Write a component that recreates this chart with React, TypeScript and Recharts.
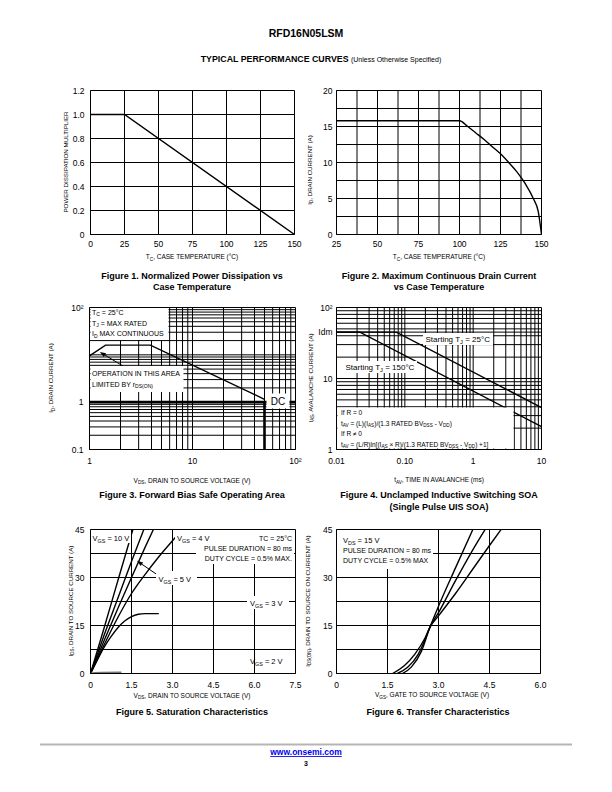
import React from "react"
import { LineChart, Line, XAxis, YAxis, CartesianGrid, ReferenceLine } from "recharts"

const FONT = "'Liberation Sans', Arial, Helvetica, sans-serif"

// Figure 1: normalized power dissipation vs case temperature
const fig1Temp = [0, 25, 150]
const fig1Mult = [1.0, 1.0, 0]
const fig1XTicks = [0, 25, 50, 75, 100, 125, 150]
const fig1YTicks = [0, 0.2, 0.4, 0.6, 0.8, 1.0, 1.2]

// Figure 2: max continuous drain current vs case temperature
const fig2Temp = [25, 100, 105, 110, 115, 120, 125, 130, 135, 140, 145, 148, 150]
const fig2Id = [15.8, 15.8, 15.0, 14.1, 13.2, 12.2, 11.2, 10.0, 8.7, 7.1, 5.0, 3.2, 0]
const fig2XTicks = [25, 37.5, 50, 62.5, 75, 87.5, 100, 112.5, 125, 137.5, 150]
const fig2XLabels = [25, 50, 75, 100, 125, 150]
const fig2YTicks = [0, 2.5, 5, 7.5, 10, 12.5, 15, 17.5, 20]
const fig2YLabels = [0, 5, 10, 15, 20]

// Figure 3: forward bias SOA (log-log)
const fig3SoaVds = [1, 1.43, 3.9, 50]
const fig3SoaId = [9.5, 16, 16, 1.15]
const fig3DcVds = [1, 100]
const fig3DcId = [1, 1]
const fig3BvVds = [50, 50]
const fig3BvId = [0.1, 1]
const fig3XTicks = [1, 2, 3, 4, 5, 6, 7, 8, 9, 10, 20, 30, 40, 50, 60, 70, 80, 90, 100]
const fig3YTicks = [0.1, 0.2, 0.3, 0.4, 0.5, 0.6, 0.7, 0.8, 0.9, 1, 2, 3, 4, 5, 6, 7, 8, 9, 10, 20, 30, 40, 50, 60, 70, 80, 90, 100]

// Figure 4: unclamped inductive switching SOA
const fig4T25Time = [0.01, 0.075, 10]
const fig4T25Ias = [45, 45, 3.9]
const fig4T150Time = [0.01, 0.022, 10]
const fig4T150Ias = [45, 45, 2.1]
const fig4XTicks = [0.01, 0.02, 0.03, 0.04, 0.05, 0.06, 0.07, 0.08, 0.09, 0.1, 0.2, 0.3, 0.4, 0.5, 0.6, 0.7, 0.8, 0.9, 1, 2, 3, 4, 5, 6, 7, 8, 9, 10]
const fig4YTicks = [1, 2, 3, 4, 5, 6, 7, 8, 9, 10, 20, 30, 40, 45, 50, 60, 70, 80, 90, 100]

// Figure 5: saturation characteristics
const vgs10Vds = [0, 0.5, 1.0, 1.55]
const vgs10Ids = [0, 14.3, 29, 45]
const vgsMidVds = [0, 0.5, 1.0, 1.5, 1.95]
const vgsMidIds = [0, 12, 23.5, 35, 45]
const vgs5Vds = [0, 0.5, 1.0, 1.5, 2.0, 2.3]
const vgs5Ids = [0, 10.3, 20.3, 30, 39.5, 45]
const vgs4Vds = [0, 0.5, 1.0, 1.5, 2.0, 2.5, 3.0, 3.35]
const vgs4Ids = [0, 9, 17.5, 25, 31, 36.5, 41.5, 45]
const vgs3Vds = [0, 0.25, 0.5, 0.75, 1.0, 1.25, 1.5, 1.75, 2.0, 2.5]
const vgs3Ids = [0, 4.2, 8.2, 11.5, 14.3, 16.4, 17.8, 18.5, 18.7, 18.7]
const vgs2Vds = [0, 0.15, 0.4, 1.13]
const vgs2Ids = [0, 0.25, 0.35, 0.4]
const fig5XTicks = [0, 1.5, 3.0, 4.5, 6.0, 7.5]
const fig5YTicks = [0, 7.5, 15, 22.5, 30, 37.5, 45]

// Figure 6: transfer characteristics
const trAVgs = [1.65, 2.0, 2.3, 2.6, 2.75, 3.0, 3.5, 4.0, 4.5, 4.84]
const trAIds = [0, 2.5, 6, 11, 14.5, 18, 25, 32.5, 40, 45]
const trBVgs = [1.79, 2.1, 2.4, 2.6, 2.75, 3.0, 3.5, 4.0, 4.37]
const trBIds = [0, 2, 6, 10.5, 14.5, 19, 29, 38.5, 45]
const trCVgs = [1.94, 2.2, 2.5, 2.75, 3.0, 3.5, 4.01]
const trCIds = [0, 2, 7, 14.5, 21, 33, 45]
const fig6XTicks = [0, 1.5, 3.0, 4.5, 6.0]
const fig6YTicks = [0, 7.5, 15, 22.5, 30, 37.5, 45]
const ampLabels = [0, 15, 30, 45]

const pts = (xs: number[], ys: number[]) => xs.map((x, i) => ({ x, y: ys[i] }))

const M = { top: 10.5, right: 9.5, bottom: 0.5, left: 0.5 }
const tickStyle = { fontSize: 8.5, fill: "#000", fontFamily: FONT }

function Arrow(props: any) {
  const { x1, y1, x2, y2 } = props
  const a = Math.atan2(y2 - y1, x2 - x1)
  const len = 6
  const w = 2.2
  const bx = x2 - len * Math.cos(a)
  const by = y2 - len * Math.sin(a)
  const px = -Math.sin(a) * w
  const py = Math.cos(a) * w
  return (
    <g>
      <line x1={x1} y1={y1} x2={bx} y2={by} stroke="#000" strokeWidth={1} />
      <polygon points={`${x2},${y2} ${bx + px},${by + py} ${bx - px},${by - py}`} fill="#000" />
    </g>
  )
}

type Part = string | [string, "sub" | "sup"]

function Rich({ x, y, size, parts, anchor = "start", weight = 400, fill = "#000", rotate = false, underline = false }: {
  x: number; y: number; size: number; parts: Part[]; anchor?: "start" | "middle" | "end"; weight?: number; fill?: string; rotate?: boolean; underline?: boolean
}) {
  let pending = 0
  const kids = parts.map((p, i) => {
    if (typeof p === "string") {
      const el = <tspan key={i} dy={pending}>{p}</tspan>
      pending = 0
      return el
    }
    const shift = p[1] === "sub" ? size * 0.28 : -size * 0.4
    const el = <tspan key={i} dy={shift + pending} fontSize={size * 0.72}>{p[0]}</tspan>
    pending = -shift
    return el
  })
  return (
    <text x={x} y={y} fontSize={size} fontWeight={weight} fill={fill} textAnchor={anchor} fontFamily={FONT}
      transform={rotate ? `rotate(-90 ${x} ${y})` : undefined} textDecoration={underline ? "underline" : undefined}>
      {kids}
    </text>
  )
}

const box = (x: number, y: number, w: number, h: number) => <rect x={x} y={y} width={w} height={h} fill="#fff" />

export default function App() {
  const lineProps = { dot: false, isAnimationActive: false, stroke: "#000", strokeWidth: 1.4, dataKey: "y" }
  const axX = (off: number) => ({ type: "number" as const, dataKey: "x", interval: 0 as const, tickLine: false, axisLine: { stroke: "#000" }, tick: tickStyle, tickSize: 4, tickMargin: off, height: 30, allowDataOverflow: true })
  const axY = (off: number) => ({ type: "number" as const, interval: 0 as const, tickLine: false, axisLine: { stroke: "#000" }, tick: tickStyle, tickSize: 4, tickMargin: off, width: 40, allowDataOverflow: true })
  const grid = <CartesianGrid stroke="#000" strokeWidth={1} />
  const at = (L: number, T: number) => ({ position: "absolute" as const, left: L - 40, top: T - 10 })

  return (
    <div style={{ position: "absolute", left: 0, top: 0, width: 612, height: 792, background: "#fff", fontFamily: FONT }}>
      {/* Figure 1 */}
      <div style={at(90, 90)}>
        <LineChart width={204 + 50} height={144 + 41} margin={M}>
          {grid}
          <XAxis {...axX(2)} domain={[0, 150]} ticks={fig1XTicks} />
          <YAxis {...axY(2)} domain={[0, 1.2]} ticks={fig1YTicks} tickFormatter={(v: number) => (v === 0 ? "0" : v.toFixed(1))} />
          <Line {...lineProps} data={pts(fig1Temp, fig1Mult)} type="linear" />
        </LineChart>
      </div>

      {/* Figure 2 */}
      <div style={at(336, 90)}>
        <LineChart width={205 + 50} height={144 + 41} margin={M}>
          {grid}
          <XAxis {...axX(2)} domain={[25, 150]} ticks={fig2XTicks} tickFormatter={(v: number) => (fig2XLabels.includes(v) ? String(v) : "")} />
          <YAxis {...axY(0)} domain={[0, 20]} ticks={fig2YTicks} tickFormatter={(v: number) => (fig2YLabels.includes(v) ? String(v) : "")} />
          <Line {...lineProps} data={pts(fig2Temp, fig2Id)} type="monotone" />
        </LineChart>
      </div>

      {/* Figure 3 */}
      <div style={at(89, 307)}>
        <LineChart width={206 + 50} height={142 + 41} margin={M}>
          {grid}
          <XAxis {...axX(4.5)} scale="log" domain={[1, 100]} ticks={fig3XTicks}
            tickFormatter={(v: number) => (v === 1 ? "1" : v === 10 ? "10" : v === 100 ? "10\u00B2" : "")} />
          <YAxis {...axY(2)} scale="log" domain={[0.1, 100]} ticks={fig3YTicks}
            tickFormatter={(v: number) => (v === 0.1 ? "0.1" : v === 1 ? "1" : v === 100 ? "10\u00B2" : "")} />
          <Line {...lineProps} data={pts(fig3SoaVds, fig3SoaId)} type="linear" />
          <Line {...lineProps} data={pts(fig3DcVds, fig3DcId)} type="linear" strokeWidth={2.6} />
          <Line {...lineProps} data={pts(fig3BvVds, fig3BvId)} type="linear" strokeWidth={2.6} />
          <ReferenceLine segment={[{ x: 2.26, y: 5.3 }, { x: 1.26, y: 11.5 }]} shape={Arrow} />
        </LineChart>
      </div>

      {/* Figure 4 */}
      <div style={at(336, 307)}>
        <LineChart width={205 + 50} height={142 + 41} margin={M}>
          {grid}
          <XAxis {...axX(4.5)} scale="log" domain={[0.01, 10]} ticks={fig4XTicks}
            tickFormatter={(v: number) => (v === 0.01 ? "0.01" : v === 0.1 ? "0.10" : v === 1 ? "1" : v === 10 ? "10" : "")} />
          <YAxis {...axY(0)} scale="log" domain={[1, 100]} ticks={fig4YTicks}
            tickFormatter={(v: number) => (v === 1 ? "1" : v === 10 ? "10" : v === 45 ? "Idm" : v === 100 ? "10\u00B2" : "")} />
          <Line {...lineProps} data={pts(fig4T25Time, fig4T25Ias)} type="linear" />
          <Line {...lineProps} data={pts(fig4T150Time, fig4T150Ias)} type="linear" />
        </LineChart>
      </div>

      {/* Figure 5 */}
      <div style={at(90, 529)}>
        <LineChart width={205 + 50} height={144 + 41} margin={M}>
          {grid}
          <XAxis {...axX(4.5)} domain={[0, 7.5]} ticks={fig5XTicks} tickFormatter={(v: number) => (v === 0 ? "0" : v.toFixed(1))} />
          <YAxis {...axY(2)} domain={[0, 45]} ticks={fig5YTicks} tickFormatter={(v: number) => (ampLabels.includes(v) ? String(v) : "")} />
          <Line {...lineProps} data={pts(vgs10Vds, vgs10Ids)} type="monotone" />
          <Line {...lineProps} data={pts(vgsMidVds, vgsMidIds)} type="monotone" />
          <Line {...lineProps} data={pts(vgs5Vds, vgs5Ids)} type="monotone" />
          <Line {...lineProps} data={pts(vgs4Vds, vgs4Ids)} type="monotone" />
          <Line {...lineProps} data={pts(vgs3Vds, vgs3Ids)} type="monotone" />
          <Line {...lineProps} data={pts(vgs2Vds, vgs2Ids)} type="monotone" stroke="#777" />
          <ReferenceLine segment={[{ x: 2.4, y: 31.1 }, { x: 1.7, y: 35.2 }]} shape={Arrow} />
        </LineChart>
      </div>

      {/* Figure 6 */}
      <div style={at(336, 529)}>
        <LineChart width={204 + 50} height={144 + 41} margin={M}>
          {grid}
          <XAxis {...axX(4.5)} domain={[0, 6]} ticks={fig6XTicks} tickFormatter={(v: number) => (v === 0 ? "0" : v.toFixed(1))} />
          <YAxis {...axY(0)} domain={[0, 45]} ticks={fig6YTicks} tickFormatter={(v: number) => (ampLabels.includes(v) ? String(v) : "")} />
          <Line {...lineProps} data={pts(trAVgs, trAIds)} type="monotone" />
          <Line {...lineProps} data={pts(trBVgs, trBIds)} type="monotone" />
          <Line {...lineProps} data={pts(trCVgs, trCIds)} type="monotone" />
        </LineChart>
      </div>

      <svg width={612} height={792} style={{ position: "absolute", left: 0, top: 0, pointerEvents: "none" }}>
        {/* header */}
        <Rich x={306} y={37} size={10.5} weight={700} anchor="middle" parts={["RFD16N05LSM"]} />
        <text x={321} y={61.5} textAnchor="middle" fontFamily={FONT} fill="#000">
          <tspan fontSize={8.8} fontWeight={700}>TYPICAL PERFORMANCE CURVES </tspan>
          <tspan fontSize={7}>(Unless Otherwise Specified)</tspan>
        </text>

        {/* figure 1 */}
        <Rich x={192} y={259} size={6.5} anchor="middle" parts={["T", ["C", "sub"], ", CASE TEMPERATURE (\u00B0C)"]} />
        <Rich x={67.5} y={162} size={6.2} anchor="middle" rotate parts={["POWER DISSIPATION MULTIPLIER"]} />
        <Rich x={192} y={278.5} size={9} weight={700} anchor="middle" parts={["Figure 1. Normalized Power Dissipation vs"]} />
        <Rich x={192} y={289.5} size={9} weight={700} anchor="middle" parts={["Case Temperature"]} />

        {/* figure 2 */}
        <Rich x={439} y={259} size={6.5} anchor="middle" parts={["T", ["C", "sub"], ", CASE TEMPERATURE (\u00B0C)"]} />
        <Rich x={311.5} y={170} size={6.2} anchor="middle" rotate parts={["I", ["D", "sub"], ", DRAIN CURRENT (A)"]} />
        <Rich x={439} y={278.5} size={9} weight={700} anchor="middle" parts={["Figure 2. Maximum Continuous Drain Current"]} />
        <Rich x={439} y={289.5} size={9} weight={700} anchor="middle" parts={["vs Case Temperature"]} />

        {/* figure 3 */}
        {box(90.5, 308, 78, 32)}
        <Rich x={92} y={314.5} size={7} parts={["T", ["C", "sub"], " = 25\u00B0C"]} />
        <Rich x={92} y={325.5} size={7} parts={["T", ["J", "sub"], " = MAX RATED"]} />
        <Rich x={92} y={336} size={7} parts={["I", ["D", "sub"], " MAX CONTINUOUS"]} />
        {box(90.5, 366, 93, 26)}
        <Rich x={92} y={375.5} size={7} parts={["OPERATION IN THIS AREA"]} />
        <Rich x={92} y={386.5} size={7} parts={["LIMITED BY r", ["DS(ON)", "sub"]]} />
        {box(266.5, 393.5, 23, 15)}
        <Rich x={278} y={405} size={10} anchor="middle" parts={["DC"]} />
        <Rich x={192} y={482.5} size={6.5} anchor="middle" parts={["V", ["DS", "sub"], ", DRAIN TO SOURCE VOLTAGE (V)"]} />
        <Rich x={53} y={378} size={6.2} anchor="middle" rotate parts={["I", ["D", "sub"], ", DRAIN CURRENT (A)"]} />
        <Rich x={192} y={498} size={9} weight={700} anchor="middle" parts={["Figure 3. Forward Bias Safe Operating Area"]} />

        {/* figure 4 */}
        {box(423, 333, 70, 12)}
        <Rich x={425.5} y={342} size={8} parts={["Starting T", ["J", "sub"], " = 25\u00B0C"]} />
        {box(343, 361, 74, 12)}
        <Rich x={345.5} y={370} size={8} parts={["Starting T", ["J", "sub"], " = 150\u00B0C"]} />
        {box(337.5, 407.5, 176, 41)}
        <Rich x={341} y={414.5} size={6.5} parts={["If R = 0"]} />
        <Rich x={341} y={425.5} size={6.5} parts={["t", ["AV", "sub"], " = (L)(I", ["AS", "sub"], ")/(1.3 RATED BV", ["DSS", "sub"], " - V", ["DD", "sub"], ")"]} />
        <Rich x={341} y={436} size={6.5} parts={["If R \u2260 0"]} />
        <Rich x={341} y={446.5} size={6.5} parts={["t", ["AV", "sub"], " = (L/R)ln[(I", ["AS", "sub"], " \u00D7 R)/(1.3 RATED BV", ["DSS", "sub"], " - V", ["DD", "sub"], ") +1]"]} />
        <Rich x={439} y={482} size={6.5} anchor="middle" parts={["t", ["AV", "sub"], ", TIME IN AVALANCHE (ms)"]} />
        <Rich x={312.5} y={378} size={6.2} anchor="middle" rotate parts={["I", ["AS", "sub"], ", AVALANCHE CURRENT (A)"]} />
        <Rich x={439} y={498} size={9} weight={700} anchor="middle" parts={["Figure 4. Unclamped Inductive Switching SOA"]} />
        <Rich x={439} y={509.5} size={9} weight={700} anchor="middle" parts={["(Single Pulse UIS SOA)"]} />

        {/* figure 5 */}
        {box(196, 530, 98, 34)}
        <Rich x={292} y={540.5} size={7} anchor="end" parts={["TC = 25\u00B0C"]} />
        <Rich x={292} y={550.5} size={7} anchor="end" parts={["PULSE DURATION = 80 ms"]} />
        <Rich x={292} y={560.5} size={7} anchor="end" parts={["DUTY CYCLE = 0.5% MAX."]} />
        {box(91, 530, 40, 13)}
        <Rich x={92.5} y={540.5} size={7.5} parts={["V", ["GS", "sub"], " = 10 V"]} />
        {box(175, 530, 41, 13)}
        <Rich x={177} y={540.5} size={7.5} parts={["V", ["GS", "sub"], " = 4 V"]} />
        {box(156, 571, 41, 14)}
        <Rich x={158.5} y={582} size={7.5} parts={["V", ["GS", "sub"], " = 5 V"]} />
        {box(247, 596, 42, 13)}
        <Rich x={250} y={606} size={7.5} parts={["V", ["GS", "sub"], " = 3 V"]} />
        <Rich x={250} y={664} size={7.5} parts={["V", ["GS", "sub"], " = 2 V"]} />
        <Rich x={192} y={697.5} size={6.5} anchor="middle" parts={["V", ["DS", "sub"], ", DRAIN TO SOURCE VOLTAGE (V)"]} />
        <Rich x={72.5} y={601} size={6.2} anchor="middle" rotate parts={["I", ["DS", "sub"], ", DRAIN TO SOURCE CURRENT (A)"]} />
        <Rich x={192} y={714.5} size={9} weight={700} anchor="middle" parts={["Figure 5. Saturation Characteristics"]} />

        {/* figure 6 */}
        {box(337, 530, 96, 39)}
        <Rich x={343} y={542.5} size={7.5} parts={["V", ["DS", "sub"], " = 15 V"]} />
        <Rich x={343} y={552.5} size={7} parts={["PULSE DURATION = 80 ms"]} />
        <Rich x={343} y={562.5} size={7} parts={["DUTY CYCLE = 0.5% MAX"]} />
        <Rich x={432} y={697} size={6.5} anchor="middle" parts={["V", ["GS", "sub"], ", GATE TO SOURCE VOLTAGE (V)"]} />
        <Rich x={309.5} y={601} size={6.2} anchor="middle" rotate parts={["I", ["DS(ON)", "sub"], ", DRAIN TO SOURCE ON CURRENT (A)"]} />
        <Rich x={438} y={714.5} size={9} weight={700} anchor="middle" parts={["Figure 6. Transfer Characteristics"]} />

        {/* footer */}
        <line x1={40} x2={572} y1={744.5} y2={744.5} stroke="#b5b5b5" strokeWidth={2} />
        <Rich x={306} y={755} size={8.5} weight={700} anchor="middle" fill="#0000ee" underline parts={["www.onsemi.com"]} />
        <Rich x={306} y={765.5} size={7} weight={700} anchor="middle" parts={["3"]} />
      </svg>
    </div>
  )
}
